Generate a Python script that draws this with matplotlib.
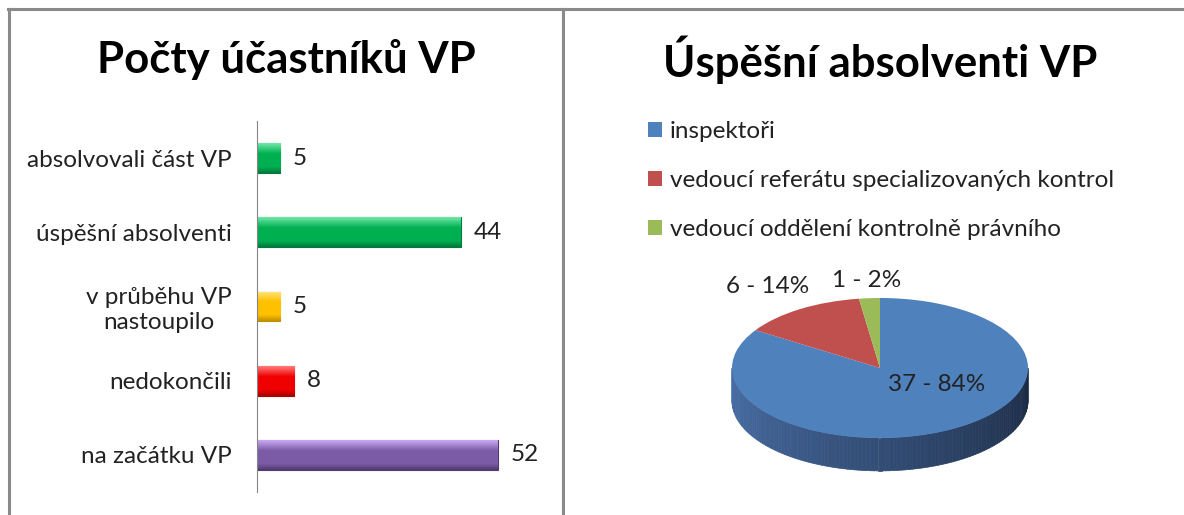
import matplotlib.pyplot as plt
from matplotlib.lines import Line2D
from matplotlib.collections import PolyCollection
from matplotlib.colors import to_rgb, LinearSegmentedColormap
import numpy as np

plt.rcParams['font.family'] = ['Lato', 'DejaVu Sans']

# levý graf - počty účastníků (odspodu nahoru)
kategorie = ['na začátku VP', 'nedokončili', 'v průběhu VP\nnastoupilo',
             'úspěšní absolventi', 'absolvovali část VP']
pocty = [52, 8, 5, 44, 5]
barvy = ['#7b5ba6', '#f00000', '#ffc000', '#00b050', '#00b050']
svetle = ['#c9aaf2', '#ff7a7a', '#ffe680', '#6fe8a8', '#6fe8a8']
tmave = ['#503a72', '#a80000', '#c09000', '#007a3c', '#007a3c']

# pravý graf - úspěšní absolventi
skupiny = ['inspektoři', 'vedoucí referátu specializovaných kontrol',
           'vedoucí oddělení kontrolně právního']
absolventi = [37, 6, 1]
barvy_pie = ['#4f81bd', '#c0504d', '#9bbb59']

W, H = 1184, 515
FS = 17.5
fig = plt.figure(figsize=(W / 100, H / 100), dpi=100)


def px(x0, y0, x1, y1):
    # obdélník v pixelech (od levého horního rohu) -> souřadnice figury
    return [x0 / W, 1 - y1 / H, (x1 - x0) / W, (y1 - y0) / H]


# ---- sloupcový graf ----
ax = fig.add_axes(px(257, 121, 535, 492))
y = np.arange(len(pocty))
bars = ax.barh(y, pocty, height=0.4, color=barvy, edgecolor=tmave, linewidth=0.8, zorder=2)
grad = np.linspace(0, 1, 64).reshape(-1, 1)
for b, sv, zak, tm in zip(bars, svetle, barvy, tmave):
    cm = LinearSegmentedColormap.from_list('b', [(0, sv), (0.35, zak), (0.8, zak), (1, tm)])
    x0, y0 = b.get_x(), b.get_y()
    im = ax.imshow(grad[::-1], extent=[x0, x0 + b.get_width(), y0, y0 + b.get_height()],
                   cmap=cm, aspect='auto', origin='lower', zorder=2.5,
                   interpolation='bilinear')
    im.set_clip_path(b)
for yi, v in zip(y, pocty):
    ax.annotate(str(v), (v, yi), xytext=(9, 0), textcoords='offset points',
                ha='left', va='center', fontsize=FS, color='#222222')

ax.set_xlim(0, 60)
ax.set_ylim(-0.5, len(pocty) - 0.5)
ax.set_xticks([])
ax.set_yticks(y, kategorie)
ax.tick_params(axis='y', length=0, pad=18, labelsize=FS, labelcolor='#222222')
for t in ax.get_yticklabels():
    t.set_multialignment('center')
for s in ['top', 'right', 'bottom']:
    ax.spines[s].set_visible(False)
ax.spines['left'].set_color('#868686')

fig.text(286 / W, 1 - 60 / H, 'Počty účastníků VP', ha='center', va='center',
         fontsize=31.5, fontweight='bold')

# ---- 3D koláč ----
ax2 = fig.add_axes(px(700, 250, 1060, 500))
wedges, _ = ax2.pie(absolventi, colors=barvy_pie, startangle=90, counterclock=False,
                    wedgeprops=dict(linewidth=0))
ax2.set_aspect('auto')
ax2.set_xlim(-180 / 148, 180 / 148)
ax2.set_ylim(-132 / 70, 118 / 70)

# bok koláče (spodní polovina je celá modrá)
hloubka = 0.47
t = np.linspace(np.pi, 2 * np.pi, 120)
c1, c2 = np.array(to_rgb('#4a70a8')), np.array(to_rgb('#1b2a42'))
polys, cols = [], []
for i in range(len(t) - 1):
    a, b = t[i], t[i + 1]
    polys.append([(np.cos(a), np.sin(a)), (np.cos(b), np.sin(b)),
                  (np.cos(b), np.sin(b) - hloubka), (np.cos(a), np.sin(a) - hloubka)])
    k = i / (len(t) - 2)
    cols.append(c1 + (c2 - c1) * k)
ax2.add_collection(PolyCollection(polys, facecolors=cols, edgecolors=cols,
                                  linewidths=0.5, zorder=0.5))

celkem = sum(absolventi)
vzdal = [0.5, 1.41, 1.3]
posun = [(15, 10), (0, -1), (0, -2)]
for w, v, r, off in zip(wedges, absolventi, vzdal, posun):
    mid = np.deg2rad((w.theta1 + w.theta2) / 2)
    ax2.annotate(f'{v} - {round(100 * v / celkem)}%', (r * np.cos(mid), r * np.sin(mid)),
                 xytext=off, textcoords='offset points', ha='center', va='center',
                 fontsize=FS, color='#222222')

ax2.legend(wedges, skupiny, loc='upper left', bbox_to_anchor=(648 / W, 1 - 121 / H),
           bbox_transform=fig.transFigure, frameon=False, fontsize=FS,
           handlelength=0.58, handleheight=0.58, handletextpad=0.33,
           labelspacing=1.15, borderpad=0, borderaxespad=0, labelcolor='#222222')

fig.text(880 / W, 1 - 60 / H, 'Úspěšní absolventi VP', ha='center', va='center',
         fontsize=31.5, fontweight='bold')

# rámeček
sed = '#8a8a8a'
fig.add_artist(Line2D([8 / W, 1], [1 - 9 / H] * 2, color=sed, lw=2.2))
fig.add_artist(Line2D([9 / W] * 2, [0, 1 - 9 / H], color=sed, lw=2.2))
fig.add_artist(Line2D([563 / W] * 2, [0, 1 - 9 / H], color=sed, lw=2.2))

fig.savefig('out.png', dpi=100, facecolor='white')
